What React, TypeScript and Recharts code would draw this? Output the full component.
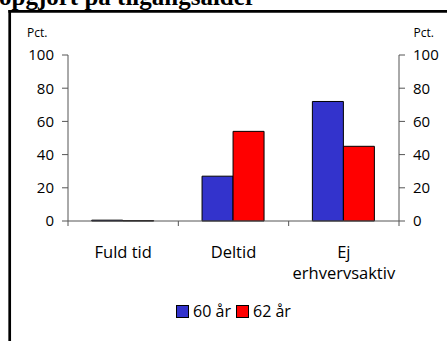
import React from 'react';
import { BarChart, Bar, XAxis, YAxis, Legend } from 'recharts';

// Employment status by age at entry
const categories = ['Fuld tid', 'Deltid', 'Ej\nerhvervsaktiv'];
const age60 = [0.5, 27, 72];
const age62 = [0.2, 54, 45];
const yTicks = [0, 20, 40, 60, 80, 100];
const seriesNames = ['60 år', '62 år'];
const seriesColors = ['#3333CC', '#FF0000'];

const data = categories.map((name, i) => ({ name, a60: age60[i], a62: age62[i] }));

const FONT = '"Open Sans", "Noto Sans", sans-serif';
const AXIS_COLOR = '#555';
const TICK_SIZE = 5;
const TICK_MARGIN = 2;

function CategoryTick(props: any) {
  const { x, y, payload, index, visibleTicksCount } = props;
  const half = payload && payload.offset ? payload.offset : 0;
  const axisY = y - TICK_SIZE - TICK_MARGIN;
  const lines = String(payload.value).split('\n');
  const isLast = index === visibleTicksCount - 1;
  return (
    <g>
      <line x1={x - half} x2={x - half} y1={axisY} y2={axisY + TICK_SIZE} stroke={AXIS_COLOR} />
      {isLast && (
        <line x1={x + half} x2={x + half} y1={axisY} y2={axisY + TICK_SIZE} stroke={AXIS_COLOR} />
      )}
      <text x={x} y={axisY} textAnchor="middle" fontFamily={FONT} fontSize={16.5} fill="#000">
        {lines.map((line, i) => (
          <tspan key={i} x={x} dy={i === 0 ? 37 : 21}>
            {line}
          </tspan>
        ))}
      </text>
    </g>
  );
}

function LegendContent(props: any) {
  const { payload } = props;
  return (
    <div
      style={{
        display: 'flex',
        justifyContent: 'center',
        alignItems: 'center',
        fontFamily: FONT,
        fontSize: 16,
        color: '#000',
        height: 30,
      }}
    >
      {(payload || []).map((entry: any, i: number) => (
        <span key={i} style={{ display: 'flex', alignItems: 'center', marginLeft: i === 0 ? 0 : 5 }}>
          <span
            style={{
              display: 'inline-block',
              width: 11,
              height: 11,
              background: entry.color,
              border: '1px solid #000',
              marginRight: 4,
            }}
          />
          {entry.value}
        </span>
      ))}
    </div>
  );
}

export default function App() {
  return (
    <div
      style={{
        position: 'fixed',
        left: 0,
        top: 0,
        width: 447,
        height: 341,
        overflow: 'hidden',
        background: '#fff',
      }}
    >
      <svg width={447} height={341} style={{ position: 'absolute', left: 0, top: 0 }}>
        <text x={-1} y={5} fontFamily='"Liberation Serif", serif' fontSize={25} fontWeight="bold" fill="#000">
          opgjort på tilgangsalder
        </text>
        <line x1={9.7} x2={9.7} y1={10} y2={341} stroke="#000" strokeWidth={2.7} />
        <line x1={8.4} x2={447} y1={11.3} y2={11.3} stroke="#000" strokeWidth={2.7} />
        <text x={27} y={37} fontFamily={FONT} fontSize={12} fill="#000">
          Pct.
        </text>
        <text x={434} y={37} textAnchor="end" fontFamily={FONT} fontSize={12} fill="#000">
          Pct.
        </text>
      </svg>
      <div style={{ position: 'absolute', left: 0, top: 0 }}>
        <BarChart
          width={447}
          height={341}
          data={data}
          margin={{ top: 55, right: 0, bottom: 15, left: 0 }}
          barCategoryGap="21.5%"
          barGap={0}
        >
          <XAxis
            dataKey="name"
            height={75}
            interval={0}
            stroke={AXIS_COLOR}
            tickLine={false}
            tickSize={TICK_SIZE}
            tickMargin={TICK_MARGIN}
            tick={<CategoryTick />}
          />
          <YAxis
            yAxisId="left"
            orientation="left"
            width={68}
            domain={[0, 100]}
            ticks={yTicks}
            interval={0}
            stroke={AXIS_COLOR}
            tickSize={6}
            tickMargin={8}
            tick={{ fill: '#000', fontSize: 15, fontFamily: FONT }}
          />
          <YAxis
            yAxisId="right"
            orientation="right"
            width={48}
            domain={[0, 100]}
            ticks={yTicks}
            interval={0}
            allowDataOverflow
            stroke={AXIS_COLOR}
            tickSize={6}
            tickMargin={8}
            tick={{ fill: '#000', fontSize: 15, fontFamily: FONT }}
          />
          <Legend
            verticalAlign="bottom"
            height={30}
            content={<LegendContent />}
            wrapperStyle={{ left: 68, width: 331, top: 296 }}
          />
          <Bar
            yAxisId="left"
            dataKey="a60"
            name={seriesNames[0]}
            fill={seriesColors[0]}
            stroke="#000"
            strokeWidth={1}
            isAnimationActive={false}
          />
          <Bar
            yAxisId="left"
            dataKey="a62"
            name={seriesNames[1]}
            fill={seriesColors[1]}
            stroke="#000"
            strokeWidth={1}
            isAnimationActive={false}
          />
        </BarChart>
      </div>
    </div>
  );
}
